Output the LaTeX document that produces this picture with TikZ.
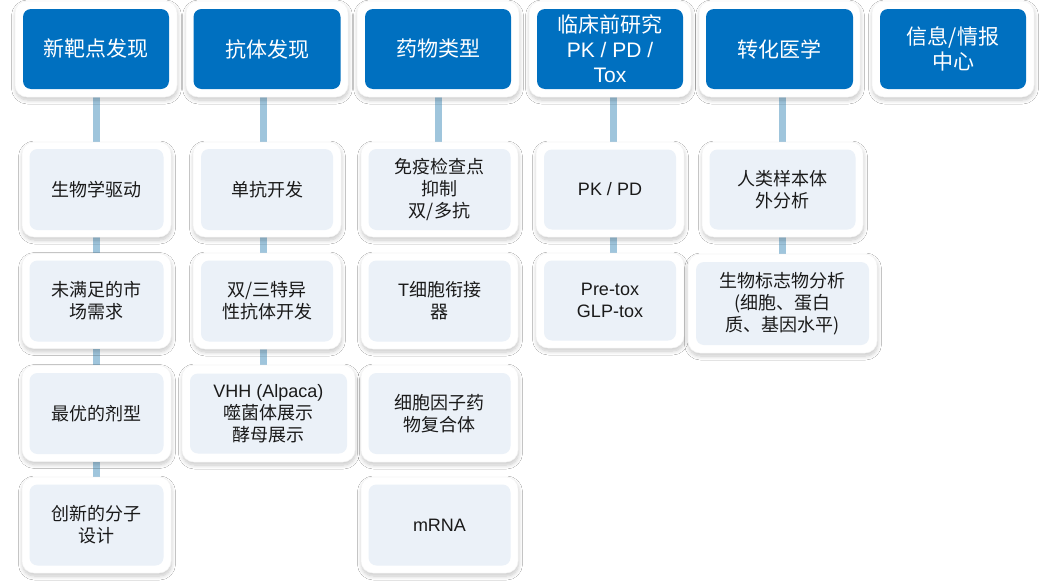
\documentclass[tikz,border=0pt]{standalone}
\usepackage{fontspec}
\setmainfont{Liberation Sans}
\newfontfamily\cjk{Noto Sans CJK SC}
\newfontfamily\lat{Liberation Sans}
\usetikzlibrary{shadows.blur,backgrounds}
\definecolor{headblue}{HTML}{0070C0}
\definecolor{childfill}{HTML}{EBF1F8}
\definecolor{connc}{HTML}{9FC5DC}
\definecolor{txt}{HTML}{1A1A1A}
\tikzset{
  outerbox/.style={rectangle, rounded corners=12pt, fill=white, draw=black!4, line width=0.5pt,
    blur shadow={shadow blur steps=8, shadow xshift=0.5pt, shadow yshift=-3pt, shadow opacity=22, shadow blur radius=4pt},
    inner sep=0pt},
  headbox/.style={rectangle, rounded corners=8pt, fill=headblue, text=white, align=center,
    font=\cjk\fontsize{21}{25}\selectfont, inner sep=0pt},
  childbox/.style={rectangle, rounded corners=8pt, fill=childfill, text=txt, align=center,
    font=\cjk\fontsize{18}{22}\selectfont, inner sep=0pt},
  conn/.style={draw=connc, line width=7pt}
}
\begin{document}
\begin{tikzpicture}[x=1pt,y=-1pt]
\useasboundingbox (0,0) rectangle (1047,581);
% headers
\node[outerbox, minimum width=162pt, minimum height=96pt] (h1) at (96,49) {};
\node[headbox, minimum width=146pt, minimum height=80pt] (h1i) at (h1) {新靶点发现};
\node[outerbox, minimum width=162pt, minimum height=96pt] (h2) at (267,49) {};
\node[headbox, minimum width=147pt, minimum height=80pt] (h2i) at (h2) {抗体发现};
\node[outerbox, minimum width=162pt, minimum height=96pt] (h3) at (438,49) {};
\node[headbox, minimum width=146pt, minimum height=80pt] (h3i) at (h3) {药物类型};
\node[outerbox, minimum width=162pt, minimum height=96pt] (h4) at (610,49) {};
\node[headbox, minimum width=146pt, minimum height=80pt] (h4i) at (h4) {临床前研究\\{\lat PK / PD /}\\{\lat Tox}};
\node[outerbox, minimum width=161pt, minimum height=96pt] (h5) at (779.5,49) {};
\node[headbox, minimum width=147pt, minimum height=80pt] (h5i) at (h5) {转化医学};
\node[outerbox, minimum width=162pt, minimum height=96pt] (h6) at (953,49) {};
\node[headbox, minimum width=146pt, minimum height=80pt] (h6i) at (h6) {信息/情报\\中心};
% column 1
\node[outerbox, minimum width=149pt, minimum height=95pt] (c11) at (96.5,189.5) {};
\node[childbox, minimum width=134pt, minimum height=81pt] (c11i) at (c11) {生物学驱动};
\node[outerbox, minimum width=149pt, minimum height=95pt] (c12) at (96.5,301) {};
\node[childbox, minimum width=134pt, minimum height=81pt] (c12i) at (c12) {未满足的市\\场需求};
\node[outerbox, minimum width=149pt, minimum height=96pt] (c13) at (96.5,413.5) {};
\node[childbox, minimum width=134pt, minimum height=81pt] (c13i) at (c13) {最优的剂型};
\node[outerbox, minimum width=149pt, minimum height=96pt] (c14) at (96.5,525) {};
\node[childbox, minimum width=134pt, minimum height=81pt] (c14i) at (c14) {创新的分子\\设计};
% column 2
\node[outerbox, minimum width=148pt, minimum height=95pt] (c21) at (267,189.5) {};
\node[childbox, minimum width=132pt, minimum height=81pt] (c21i) at (c21) {单抗开发};
\node[outerbox, minimum width=148pt, minimum height=96pt] (c22) at (267,301) {};
\node[childbox, minimum width=132pt, minimum height=81pt] (c22i) at (c22) {双/三特异\\性抗体开发};
\node[outerbox, minimum width=173pt, minimum height=97pt] (c23) at (268.5,413.5) {};
\node[childbox, minimum width=157pt, minimum height=80pt] (c23i) at (c23) {{\lat VHH (Alpaca)}\\噬菌体展示\\酵母展示};
% column 3
\node[outerbox, minimum width=157pt, minimum height=95pt] (c31) at (439.5,189.5) {};
\node[childbox, minimum width=142pt, minimum height=81pt] (c31i) at (c31) {免疫检查点\\抑制\\双/多抗};
\node[outerbox, minimum width=157pt, minimum height=96pt] (c32) at (439.5,301) {};
\node[childbox, minimum width=142pt, minimum height=81pt] (c32i) at (c32) {{\lat T}细胞衔接\\器};
\node[outerbox, minimum width=157pt, minimum height=97pt] (c33) at (439.5,413.5) {};
\node[childbox, minimum width=142pt, minimum height=81pt] (c33i) at (c33) {细胞因子药\\物复合体};
\node[outerbox, minimum width=157pt, minimum height=96pt] (c34) at (439.5,525) {};
\node[childbox, minimum width=142pt, minimum height=81pt] (c34i) at (c34) {\lat mRNA};
% column 4
\node[outerbox, minimum width=148pt, minimum height=95pt] (c41) at (610,189.5) {};
\node[childbox, minimum width=132pt, minimum height=80pt] (c41i) at (c41) {\lat PK / PD};
\node[outerbox, minimum width=148pt, minimum height=95pt] (c42) at (610,300.5) {};
\node[childbox, minimum width=132pt, minimum height=80pt] (c42i) at (c42) {{\lat Pre-tox}\\{\lat GLP-tox}};
% column 5
\node[outerbox, minimum width=161pt, minimum height=95pt] (c51) at (782.5,189.5) {};
\node[childbox, minimum width=146pt, minimum height=80pt] (c51i) at (c51) {人类样本体\\外分析};
\node[outerbox, minimum width=189pt, minimum height=99pt] (c52) at (782.5,303.5) {};
\node[childbox, minimum width=173pt, minimum height=83pt] (c52i) at (c52) {生物标志物分析\\(细胞、蛋白\\质、基因水平)};
% connectors and background
\begin{scope}[on background layer]
\fill[white] (0,0) rectangle (1047,581);
\draw[conn] (h1.south) -- (h1.south |- c11.north);
\draw[conn] (c11.south) -- (c11.south |- c12.north);
\draw[conn] (c12.south) -- (c12.south |- c13.north);
\draw[conn] (c13.south) -- (c13.south |- c14.north);
\draw[conn] ([xshift=-4pt]h2.south) -- ([xshift=-4pt]h2.south |- c21.north);
\draw[conn] ([xshift=-4pt]c21.south) -- ([xshift=-4pt]c21.south |- c22.north);
\draw[conn] ([xshift=-4pt]c22.south) -- ([xshift=-4pt]c22.south |- c23.north);
\draw[conn] (h3.south) -- (h3.south |- c31.north);
\draw[conn] ([xshift=3pt]h4.south) -- ([xshift=3pt]h4.south |- c41.north);
\draw[conn] ([xshift=3pt]c41.south) -- ([xshift=3pt]c41.south |- c42.north);
\draw[conn] ([xshift=3pt]h5.south) -- ([xshift=3pt]h5.south |- c51.north);
\draw[conn] (c51.south) -- (c51.south |- c52.north);
\end{scope}
\end{tikzpicture}
\end{document}
